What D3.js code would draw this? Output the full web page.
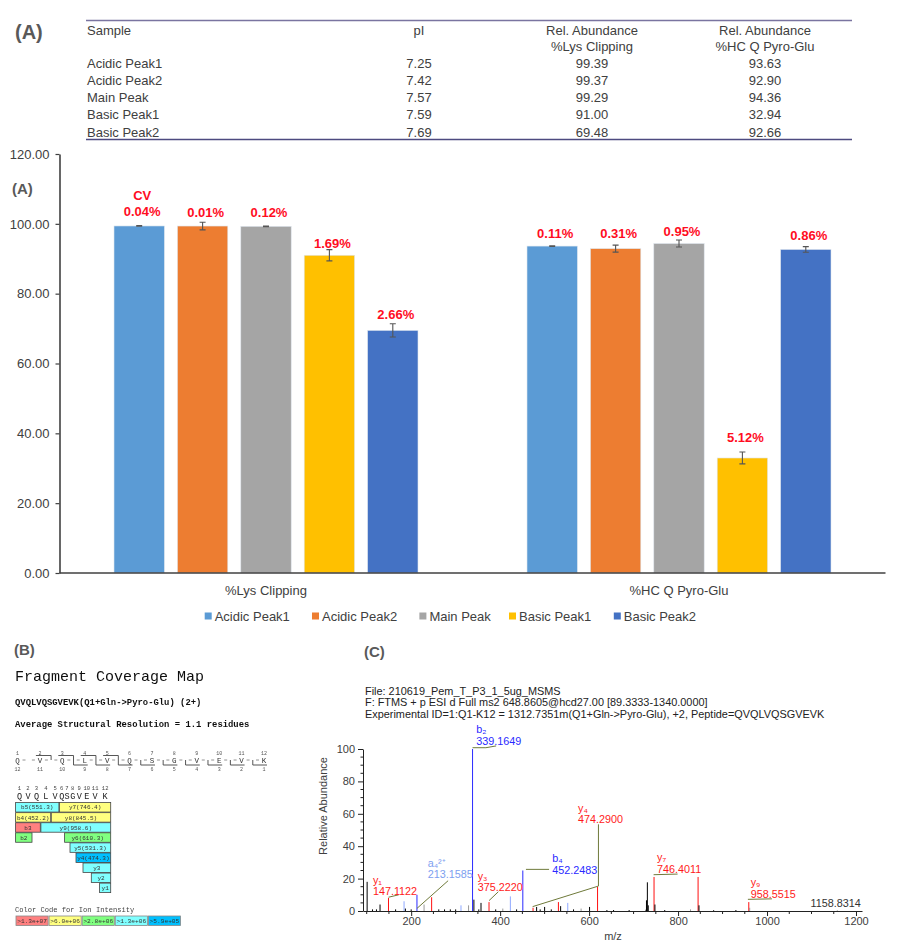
<!DOCTYPE html>
<html><head><meta charset="utf-8">
<script src="https://cdn.jsdelivr.net/npm/d3@7/dist/d3.min.js"></script>
<style>html,body{margin:0;padding:0;background:#fff}svg{display:block}</style>
</head><body><svg id="c" width="902" height="949"></svg>
<script>
// ---------- DATA ----------
const samples = ["Acidic Peak1","Acidic Peak2","Main Peak","Basic Peak1","Basic Peak2"];
const pI = ["7.25","7.42","7.57","7.59","7.69"];
const measures = ["%Lys Clipping","%HC Q Pyro-Glu"];
const lysClipping = [99.39,99.37,99.29,91.00,69.48];
const pyroGlu = [93.63,92.90,94.36,32.94,92.66];
const lysErr = [0.1,1.1,0.1,1.6,1.9];
const pyroErr = [0.1,1.0,1.0,1.7,0.8];
const lysCV = ["0.04%","0.01%","0.12%","1.69%","2.66%"];
const pyroCV = ["0.11%","0.31%","0.95%","5.12%","0.86%"];
const yTicks = [0,20,40,60,80,100,120];

const residues = ["Q","V","Q","L","V","Q","S","G","V","E","V","K"];
const fragNames = ["b5(551.3)","y7(746.4)","b4(452.2)","y8(845.5)","b3","y9(958.6)","b2","y6(610.3)","y5(531.3)","y4(474.3)","y3","y2","y1"];
const fragFrom = [0,5,0,4,0,3,0,6,7,8,9,10,11];
const fragTo = [5,12,4,12,3,12,2,12,12,12,12,12,12];
const fragRow = [0,0,1,1,2,2,3,3,4,5,6,7,8];
const fragClass = [3,1,1,1,0,3,2,2,3,4,3,3,3];
const intensityCodes = [">1.3e+07",">6.0e+06",">2.8e+06",">1.3e+06",">5.9e+05"];

const peakMz = [101,113,122,130,149,165,184,187,200,213,229,246,262,275,288,300,312,329,338,341,352,357,375,390,406,423,437,451,474,482,490,500,515,531,536,552,565,582,601,619,640,655,690,728,729,731,733,746,748,770,828,845,847,880,930,959,961,1158];
const peakInt = [18,1,1,4,8,1,6,1.5,1,10,4,8.5,1,1,1,1,3.5,3.5,100,7,1,5,5.5,1,1.5,9,1,25,2,2.5,1,2.5,1,5.5,3,5,1,1.5,2.5,15,0.6,0.6,0.6,0.8,6.6,17.7,3.5,21,4,0.6,1,21,3.5,0.5,0.6,5.5,2,0.4];
const peakType = ["k","k","k","k","r","k","l","k","k","b","g","r","k","k","k","k","l","g","b","k","k","k","r","k","g","l","k","b","r","k","k","k","k","r","k","l","k","g","k","r","k","k","k","k","k","k","k","r","k","k","g","r","k","k","k","r","g","g"];

const ionNames = ["b₂","a₄²⁺","y₁","y₃","b₄","y₄","y₇","y₉",""];
const ionMasses = ["339.1649","213.1585","147.1122","375.2220","452.2483","474.2900","746.4011","958.5515","1158.8314"];
const ionPeakMz = [338,213,149,375,451,619,746,959,1158];
const ionPeakInt = [100,10,8,5.5,25,15,21,5.5,0.4];
const ionKind = ["b","l","r","r","b","r","r","r","k"];
const leaderMz = [[338,368,391],[213,283],[149,172],[375,396],[458,510],[473,621,621],[745,799],[957,1011]];
const leaderInt = [[100.8,100.8,101.9],[1.6,18.7],[8.5,10],[6.4,11.9],[25.7,25.7],[2.7,15.4,53.5],[22.4,22.8],[7.2,7.5]];

const headerLines = ["File: 210619_Pem_T_P3_1_5ug_MSMS",
 "F: FTMS + p ESI d Full ms2 648.8605@hcd27.00 [89.3333-1340.0000]",
 "Experimental ID=1:Q1-K12 = 1312.7351m(Q1+Gln->Pyro-Glu), +2, Peptide=QVQLVQSGVEVK"];

// ---------- STYLE / LAYOUT ----------
const svg = d3.select("#c");
const defs = svg.append("defs");
defs.append("filter").attr("id","soft").append("feGaussianBlur").attr("stdDeviation",0.3);
const SANS = "'Liberation Sans',Arial,sans-serif", MONO = "'Liberation Mono','DejaVu Sans Mono',monospace";
const INK = "#404040";
const barColors = ["#5b9bd5","#ed7d31","#a5a5a5","#ffc000","#4472c4"];
const txt = (g,x,y,s,o={}) => g.append("text").attr("x",x).attr("y",y).attr("dy","0.35em")
  .attr("font-family",o.f||SANS).attr("font-size",o.s||13).attr("font-weight",o.w||"normal")
  .attr("fill",o.c||INK).attr("text-anchor",o.a||"start").attr("transform",o.t||null).text(s);

// panel letters
txt(svg,15,32,"(A)",{s:20,w:"bold",c:"#595959"});
txt(svg,12,189,"(A)",{s:15,w:"bold",c:"#595959"});
txt(svg,14,650,"(B)",{s:15,w:"bold",c:"#595959"});
txt(svg,364,652,"(C)",{s:15,w:"bold",c:"#595959"});

// ---------- table ----------
const tbl = svg.append("g");
const colX = {s:87,p:419,l:592,h:765};
[20.5,139.5].forEach(y=>tbl.append("line").attr("x1",86).attr("x2",852).attr("y1",y).attr("y2",y)
  .attr("stroke",y<50?"#7a74a0":"#4d4a80").attr("stroke-width",1.6));
txt(tbl,colX.s,30,"Sample");
txt(tbl,colX.p,30,"pI",{a:"middle"});
txt(tbl,colX.l,30,"Rel. Abundance",{a:"middle"});
txt(tbl,colX.h,30,"Rel. Abundance",{a:"middle"});
txt(tbl,colX.l,46,measures[0],{a:"middle"});
txt(tbl,colX.h,46,measures[1],{a:"middle"});
const rowY = d3.scalePoint().domain(samples).range([63.5,132]);
samples.forEach((s,i)=>{
  const y=rowY(s);
  txt(tbl,colX.s,y,s);
  txt(tbl,colX.p,y,pI[i],{a:"middle"});
  txt(tbl,colX.l,y,lysClipping[i].toFixed(2),{a:"middle"});
  txt(tbl,colX.h,y,pyroGlu[i].toFixed(2),{a:"middle"});
});

// ---------- bar chart ----------
const bar = svg.append("g");
const x0 = d3.scaleBand().domain(measures).range([59.5,885.5]);
const barGroupPad = 54.5;
const x1 = d3.scaleBand().domain(samples).range([barGroupPad,x0.bandwidth()-barGroupPad]).paddingInner(0.205);
const y = d3.scaleLinear().domain([0,120]).range([573,154]);
const yAxis = d3.axisLeft(y).tickValues(yTicks).tickFormat(d3.format(".2f")).tickSize(4).tickSizeOuter(0);
const gy = bar.append("g").attr("transform","translate(59.5,0)").call(yAxis);
gy.selectAll("text").attr("font-family",SANS).attr("font-size",13).attr("fill",INK).attr("dx",-3);
gy.selectAll("line").attr("stroke",INK).attr("stroke-width",1.2);
gy.select(".domain").attr("stroke",INK).attr("stroke-width",1.6);
const series = [
 {m:measures[0],v:lysClipping,e:lysErr,cv:lysCV,dy:[15,14,14,11.5,16]},
 {m:measures[1],v:pyroGlu,e:pyroErr,cv:pyroCV,dy:[13,15,12,21,14]}];
const labelShift = 3;
series.forEach(s=>{
  samples.forEach((name,i)=>{
    const X=x0(s.m)+x1(name), W=x1.bandwidth(), cx=X+W/2;
    bar.append("rect").attr("x",X).attr("width",W).attr("y",y(s.v[i])).attr("height",y(0)-y(s.v[i]))
      .attr("fill",barColors[i]).attr("stroke","#dfe6ee").attr("stroke-width",0.6);
    const t=y(s.v[i]+s.e[i]), b=y(s.v[i]-s.e[i]);
    bar.append("path").attr("d",`M${cx-3},${t}H${cx+3}M${cx},${t}V${b}M${cx-3},${b}H${cx+3}`)
      .attr("fill","none").attr("stroke","#555").attr("stroke-width",1.1);
    txt(bar,cx+labelShift,y(s.v[i])-s.dy[i],s.cv[i],{a:"middle",w:"bold",c:"#ff0d1f"});
  });
  txt(bar,x0(s.m)+x0.bandwidth()/2,590,s.m,{a:"middle"});
});
txt(bar,x0(measures[0])+x1(samples[0])+x1.bandwidth()/2+labelShift,195,"CV",{a:"middle",w:"bold",c:"#ff0d1f"});
bar.append("line").attr("x1",59.5).attr("x2",885.5).attr("y1",y(0)).attr("y2",y(0)).attr("stroke",INK).attr("stroke-width",1.6);
// legend
const legendX=[204.7,312,419.4,509,613.8];
samples.forEach((s,i)=>{
  bar.append("rect").attr("x",legendX[i]).attr("y",612.5).attr("width",7).attr("height",7).attr("fill",barColors[i]);
  txt(bar,legendX[i]+10,616.5,s);
});

// ---------- fragment coverage map ----------
const fm = svg.append("g").attr("filter","url(#soft)");
txt(fm,15,676,"Fragment Coverage Map",{f:MONO,s:15,c:"#111"});
txt(fm,15,702,"QVQLVQSGVEVK(Q1+Gln->Pyro-Glu) (2+)",{f:MONO,s:8.9,w:"bold",c:"#111"});
txt(fm,15,723.5,"Average Structural Resolution = 1.1 residues",{f:MONO,s:8.9,w:"bold",c:"#111"});

// ladder
const ladderX = d3.scalePoint().domain(d3.range(12)).range([17.5,264]);
const LY=760;
residues.forEach((r,i)=>{
  const cx=ladderX(i);
  txt(fm,cx,753.3,String(i+1),{f:MONO,s:5,a:"middle",c:"#555"});
  txt(fm,cx,LY,r,{f:MONO,s:7.5,a:"middle",c:"#333"});
  txt(fm,cx,769,String(12-i),{f:MONO,s:5,a:"middle",c:"#555"});
  const d=[]; if(i>0)d.push(`M${cx-8},${LY}h3`); if(i<11)d.push(`M${cx+5},${LY}h3`);
  fm.append("path").attr("d",d.join("")).attr("stroke","#777").attr("stroke-width",0.8).attr("fill","none");
});
for(let g=1;g<12;g++){
  const vx=(ladderX(g-1)+ladderX(g))/2;
  const hasB=fragNames.some((n,i)=>n[0]==="b"&&fragTo[i]===g), hasY=fragNames.some((n,i)=>n[0]==="y"&&fragFrom[i]===g);
  if(!hasB&&!hasY) continue;
  let d=`M${vx},${hasB?755.5:LY}V${hasY?765:LY}`;
  if(hasB) d=`M${ladderX(g-1)-4},755.5H${vx}V${hasY?765:LY}`;
  if(hasY) d+=`H${ladderX(g)+3}`;
  fm.append("path").attr("d",d).attr("fill","none").attr("stroke","#444").attr("stroke-width",0.9);
}

// coverage boxes
const edge = d3.scaleLinear().domain(d3.range(13)).range([15.3,23.7,32.3,40.6,51,59.2,64.3,69.7,75.7,82.7,91,99.3,111]);
const covRow = d3.scaleBand().domain(d3.range(9)).range([802.3,892.9]);
const codeColors=["#ff8080","#ffff80","#80ff80","#80ffff","#00c0ff"];
residues.forEach((r,i)=>{
  const cx=(edge(i)+edge(i+1))/2;
  txt(fm,cx,787.7,String(i+1),{f:MONO,s:5.5,a:"middle",c:"#444"});
  txt(fm,cx,796,r,{f:MONO,s:8.5,a:"middle",c:"#222"});
});
fragNames.forEach((n,i)=>{
  const X=edge(fragFrom[i]),W=edge(fragTo[i])-X,Y=covRow(fragRow[i]),H=covRow.bandwidth();
  fm.append("rect").attr("x",X+0.3).attr("y",Y+0.3).attr("width",W-0.6).attr("height",H-0.6)
    .attr("fill",codeColors[fragClass[i]]).attr("stroke","#444").attr("stroke-width",0.8);
  txt(fm,X+W/2,Y+H/2,n,{f:MONO,s:6,a:"middle",c:"#333"});
});
txt(fm,15,909.5,"Color Code for Ion Intensity",{f:MONO,s:7.1,c:"#444"});
const codeX=d3.scaleBand().domain(d3.range(5)).range([16,180.5]).paddingInner(0.03);
intensityCodes.forEach((c,i)=>{
  fm.append("rect").attr("x",codeX(i)).attr("y",916).attr("width",codeX.bandwidth()).attr("height",9.5)
    .attr("fill",codeColors[i]).attr("stroke","#888").attr("stroke-width",0.8);
  txt(fm,codeX(i)+codeX.bandwidth()/2,921,c,{f:MONO,s:6.2,a:"middle",c:"#333"});
});

// ---------- spectrum ----------
const sp = svg.append("g");
const hdrY=[691,702.5,714];
headerLines.forEach((l,i)=>txt(sp,365,hdrY[i],l,{s:10.9,c:"#222"}));
const mx = d3.scaleLinear().domain([91.7,1213.5]).range([363,862]);
const my = d3.scaleLinear().domain([0,100]).range([911,749]);
const kindCol={r:"#ff1010",b:"#2a2aff",l:"#8fa8ff",k:"#000",g:"#9a9a9a"};
const textCol={r:"#ff1a1a",b:"#2a2aff",l:"#7da0f0",k:"#333"};
peakMz.forEach((m,i)=>sp.append("line").attr("x1",mx(m)).attr("x2",mx(m)).attr("y1",my(0)).attr("y2",my(peakInt[i]))
  .attr("stroke",kindCol[peakType[i]]).attr("stroke-width",1));
const xMajor=d3.range(200,1201,200), xMinor=d3.range(100,1201,50).filter(d=>d%200);
const gx=sp.append("g").attr("transform",`translate(0,${my(0)})`).call(d3.axisBottom(mx).tickValues(xMajor).tickFormat(d3.format("d")).tickSize(5).tickSizeOuter(0));
gx.selectAll("text").attr("font-family",SANS).attr("font-size",11).attr("fill",INK).attr("dy","0.55em");
gx.selectAll("line").attr("stroke","#222");gx.select(".domain").attr("stroke","#222");
xMinor.forEach(v=>gx.append("line").attr("x1",mx(v)).attr("x2",mx(v)).attr("y1",0).attr("y2",3).attr("stroke","#222"));
const gyS=sp.append("g").attr("transform",`translate(${mx.range()[0]},0)`).call(d3.axisLeft(my).tickValues(d3.range(0,101,20)).tickSize(5).tickSizeOuter(0));
gyS.selectAll("text").attr("font-family",SANS).attr("font-size",11).attr("fill",INK);
gyS.selectAll("line").attr("stroke","#222");gyS.select(".domain").attr("stroke","#222");
d3.range(0,101,5).filter(d=>d%20).forEach(v=>gyS.append("line").attr("x1",-2.5).attr("x2",0).attr("y1",my(v)).attr("y2",my(v)).attr("stroke","#222"));
txt(sp,613,936,"m/z",{s:11,a:"middle"});
txt(sp,0,0,"Relative Abundance",{s:11,a:"middle",t:"translate(323,806) rotate(-90)"});
// leaders
const leader=d3.line();
leaderMz.forEach((ms,i)=>sp.append("path").attr("d",leader(ms.map((m,j)=>[mx(m),my(leaderInt[i][j])])))
  .attr("fill","none").attr("stroke","#6f7a3a").attr("stroke-width",1));
// annotation offsets from each labelled peak
const labelDx=[3.7,10.7,-15.6,-11.3,29.4,-19.5,3,1.9,-26.7];
const massDy=[-7.3,-20.1,-7,-15,-0.5,-67.7,-8,-8,-7.4];
const nameDy=[-20,-31.8,-18,-26,-12.5,-78.7,-20,-20,0];
ionMasses.forEach((m,i)=>{
  const lx=mx(ionPeakMz[i])+labelDx[i], ly=my(ionPeakInt[i]);
  txt(sp,lx,ly+massDy[i],m,{s:10.8,c:textCol[ionKind[i]]});
  if(ionNames[i]) txt(sp,lx,ly+nameDy[i],ionNames[i],{s:10.8,c:textCol[ionKind[i]]});
});
</script></body></html>
